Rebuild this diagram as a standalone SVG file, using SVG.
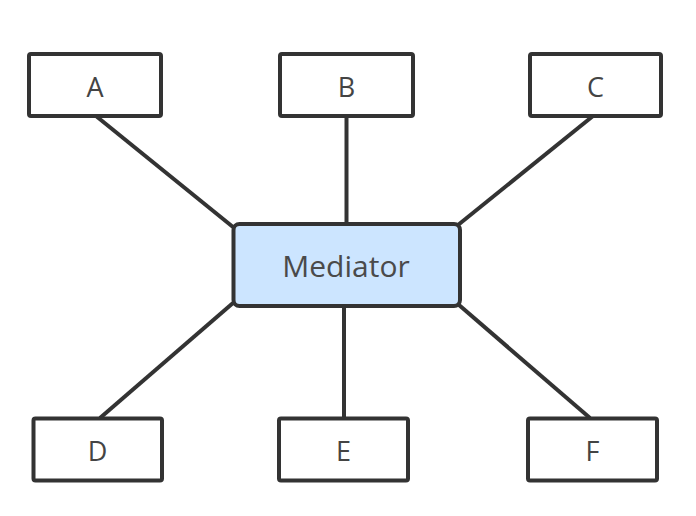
<svg xmlns="http://www.w3.org/2000/svg" width="696" height="516" viewBox="0 0 696 516">
<style>
.box{fill:#ffffff;stroke:#333333;stroke-width:4}
.med{fill:#cce5ff;stroke:#333333;stroke-width:4}
.lbl{font-family:"Open Sans","Noto Sans","Liberation Sans",sans-serif;font-size:27px;fill:#444444;text-anchor:middle;dominant-baseline:central}
.big{font-size:30px;fill:#4a4a4a}
.conn line{stroke:#333333;stroke-width:4}
</style>
<rect width="696" height="516" fill="#ffffff"/>
<g id="connectors" class="conn">
<line x1="96" y1="116" x2="233" y2="227"/>
<line x1="346.5" y1="116" x2="346.5" y2="224"/>
<line x1="593" y1="116" x2="458" y2="225"/>
<line x1="233" y1="303" x2="100" y2="418"/>
<line x1="344" y1="306" x2="344" y2="418"/>
<line x1="459" y1="305" x2="590" y2="418"/>
</g>
<g id="A"><rect class="box" x="29" y="54" width="132" height="62" rx="2"/><text class="lbl" x="95" y="86">A</text></g>
<g id="B"><rect class="box" x="280" y="54" width="133" height="62" rx="2"/><text class="lbl" x="346.5" y="86">B</text></g>
<g id="C"><rect class="box" x="530" y="54" width="131" height="62" rx="2"/><text class="lbl" x="595.5" y="86">C</text></g>
<g id="Mediator"><rect class="med" x="233.5" y="224" width="226.5" height="82" rx="6"/><text class="lbl big" x="346" y="265">Mediator</text></g>
<g id="D"><rect class="box" x="33.5" y="418.5" width="128.5" height="62" rx="2"/><text class="lbl" x="97.5" y="450">D</text></g>
<g id="E"><rect class="box" x="279" y="418.5" width="129" height="62" rx="2"/><text class="lbl" x="343.5" y="450">E</text></g>
<g id="F"><rect class="box" x="528" y="418.5" width="129" height="62" rx="2"/><text class="lbl" x="592.5" y="450">F</text></g>
</svg>
